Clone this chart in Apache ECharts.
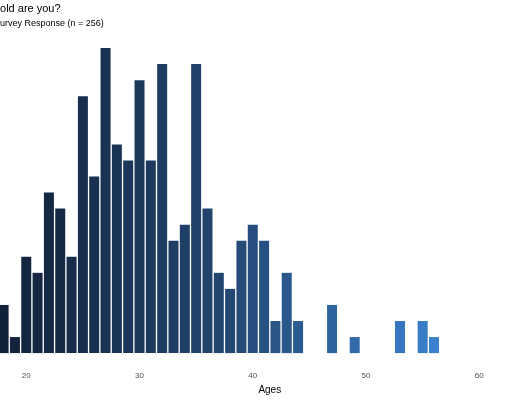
<!DOCTYPE html>
<html>
<head>
<meta charset="utf-8">
<script src="https://cdn.jsdelivr.net/npm/echarts@6/dist/echarts.min.js"></script>
<style>
html,body{margin:0;padding:0;overflow:hidden;background:#fff;width:520px;height:400px;}
#chart{position:absolute;left:-100px;top:0;width:700px;height:400px;}
</style>
</head>
<body>
<div id="chart"></div>
<script>
const titleText = 'How old are you?';
const subtitleText = 'Survey Response (n = 256)';
const xName = 'Ages';
const ages   = [18,19,20,21,22,23,24,25,26,27,28,29,30,31,32,33,34,35,36,37,38,39,40,41,42,43,44,47,49,53,55,56];
const counts = [ 3, 1, 6, 5,10, 9, 6,16,11,19,13,12,17,12,18, 7, 8,18, 9, 5, 4, 7, 8, 7, 2, 5, 2, 3, 1, 2, 2, 1];

const chart = echarts.init(document.getElementById('chart'), null, {renderer: 'canvas'});
chart.setOption({
  animation: false,
  textStyle: {fontFamily: 'Liberation Sans, Arial, sans-serif'},
  title: [
    {text: titleText, left: 75, top: 3, padding: 0,
     textStyle: {fontSize: 11, fontWeight: 'normal', color: '#000'}},
    {text: subtitleText, left: 94, top: 19, padding: 0,
     textStyle: {fontSize: 9, fontWeight: 'normal', color: '#000'}}
  ],
  grid: {left: 13, width: 684, top: 32, bottom: 43, containLabel: false},
  visualMap: {
    show: false, type: 'continuous', dimension: 0, min: 18, max: 56,
    inRange: {color: ['#12213a', '#22456f', '#3b80cc']}
  },
  xAxis: {
    type: 'value', min: 10, max: 70, interval: 10,
    name: xName, nameLocation: 'middle', nameGap: 29,
    nameTextStyle: {fontSize: 10, color: '#000', padding: [0, 0, 0, 34]},
    axisLine: {show: false}, axisTick: {show: false}, splitLine: {show: false},
    axisLabel: {fontSize: 8, color: '#4d4d4d', margin: 19}
  },
  yAxis: {type: 'value', min: 0, max: 20, show: false, splitLine: {show: false}},
  series: [{
    type: 'bar',
    barWidth: 10,
    data: ages.map((a, i) => [a, counts[i]])
  }]
});
</script>
</body>
</html>
